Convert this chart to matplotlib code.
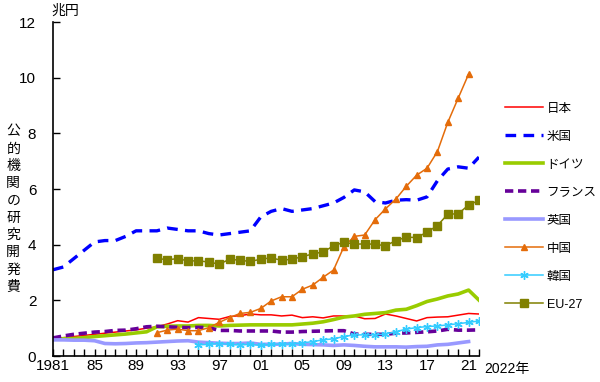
import numpy as np
import matplotlib.pyplot as plt

plt.rcParams['font.family'] = ['Liberation Sans', 'Noto Sans CJK JP']
plt.rcParams['xtick.direction'] = 'in'
plt.rcParams['ytick.direction'] = 'in'
plt.rcParams['xtick.major.pad'] = 2.5
plt.rcParams['ytick.major.pad'] = 12

# 公的機関の研究開発費（兆円）
years = np.arange(1981, 2023)

japan = [0.63, 0.66, 0.70, 0.74, 0.78, 0.82, 0.86, 0.90, 0.94, 1.00,
         1.05, 1.15, 1.27, 1.22, 1.38, 1.35, 1.32, 1.42, 1.45, 1.51,
         1.48, 1.48, 1.44, 1.47, 1.38, 1.41, 1.37, 1.44, 1.44, 1.44,
         1.34, 1.35, 1.51, 1.44, 1.35, 1.26, 1.38, 1.40, 1.41, 1.47,
         1.53, 1.51]
usa = [3.10, 3.20, 3.50, 3.80, 4.10, 4.15, 4.15, 4.30, 4.50, 4.50,
       4.50, 4.60, 4.55, 4.50, 4.50, 4.40, 4.35, 4.40, 4.45, 4.50,
       5.00, 5.20, 5.30, 5.20, 5.25, 5.30, 5.40, 5.50, 5.70, 5.97,
       5.90, 5.55, 5.50, 5.60, 5.62, 5.60, 5.72, 6.30, 6.72, 6.80,
       6.75, 7.15]
germany = [0.62, 0.62, 0.63, 0.66, 0.70, 0.73, 0.76, 0.79, 0.83, 0.87,
           1.05, 1.07, 1.08, 1.08, 1.10, 1.10, 1.08, 1.10, 1.11, 1.12,
           1.12, 1.12, 1.12, 1.12, 1.15, 1.18, 1.23, 1.31, 1.40, 1.44,
           1.50, 1.53, 1.56, 1.65, 1.68, 1.81, 1.96, 2.05, 2.16, 2.23,
           2.37, 2.01]
france = [0.65, 0.72, 0.78, 0.82, 0.86, 0.88, 0.92, 0.93, 0.98, 1.05,
          1.07, 1.05, 1.03, 1.02, 1.03, 1.02, 0.92, 0.92, 0.90, 0.90,
          0.90, 0.90, 0.86, 0.86, 0.88, 0.89, 0.90, 0.91, 0.91, 0.79,
          0.78, 0.78, 0.78, 0.82, 0.83, 0.85, 0.87, 0.90, 0.96, 0.93,
          0.93, 0.94]
uk = [0.58, 0.58, 0.57, 0.57, 0.55, 0.45, 0.44, 0.45, 0.47, 0.48,
      0.50, 0.52, 0.54, 0.55, 0.50, 0.48, 0.46, 0.45, 0.45, 0.47,
      0.42, 0.42, 0.43, 0.45, 0.42, 0.41, 0.40, 0.38, 0.40, 0.38,
      0.35, 0.33, 0.33, 0.33, 0.32, 0.34, 0.35, 0.40, 0.42, 0.47,
      0.52, np.nan]
china = [np.nan] * 10 + [
    0.84, 0.93, 0.97, 0.91, 0.91, 1.02, 1.21, 1.38, 1.53, 1.57,
    1.71, 1.98, 2.13, 2.13, 2.40, 2.55, 2.83, 3.09, 3.93, 4.30,
    4.35, 4.90, 5.29, 5.64, 6.10, 6.50, 6.75, 7.35, 8.40, 9.27,
    10.13, np.nan]
korea = [np.nan] * 14 + [
    0.40, 0.42, 0.45, 0.42, 0.40, 0.42, 0.38, 0.42, 0.43, 0.43,
    0.47, 0.52, 0.58, 0.62, 0.70, 0.76, 0.76, 0.76, 0.79, 0.87,
    0.97, 1.02, 1.06, 1.08, 1.12, 1.16, 1.21, 1.26]
eu27 = [np.nan] * 10 + [
    3.51, 3.46, 3.50, 3.42, 3.42, 3.38, 3.30, 3.48, 3.44, 3.40,
    3.48, 3.53, 3.44, 3.48, 3.57, 3.67, 3.74, 3.96, 4.09, 4.02,
    4.03, 4.02, 3.96, 4.15, 4.27, 4.26, 4.45, 4.69, 5.10, 5.11,
    5.43, 5.59]

fig = plt.figure(figsize=(6, 3.82), dpi=100)
ax = fig.add_axes([0.0883, 0.068, 0.710, 0.874])

ax.plot(years, japan, color='#ff0000', lw=1.1, label='日本')
ax.plot(years, usa, color='#0000ff', lw=2.4, dashes=(3.2, 2.2), label='米国')
ax.plot(years, germany, color='#99cc00', lw=2.6, label='ドイツ')
ax.plot(years, france, color='#660099', lw=2.6, dashes=(2.3, 1.3), label='フランス')
ax.plot(years, uk, color='#9999ff', lw=2.6, label='英国')
ax.plot(years, china, color='#e46c0a', lw=1.1, marker='^', ms=5, label='中国')
ax.plot(years, korea, color='#33ccff', lw=1.1, marker=(6, 2, 0), ms=6,
        mew=1.0, label='韓国')
ax.plot(years, eu27, color='#808000', lw=1.1, marker='s', ms=5.5, label='EU-27')

ax.set_xlim(1981, 2022)
ax.set_ylim(0, 12)
ax.spines['top'].set_visible(False)
ax.spines['right'].set_visible(False)
ax.spines['left'].set_linewidth(1.2)
ax.spines['bottom'].set_linewidth(1.2)

ax.set_yticks(range(0, 13, 2))
ax.set_xticks(years)
xlabels = []
for y in years:
    if (y - 1981) % 4 == 0:
        xlabels.append('1981' if y == 1981 else '%02d' % (y % 100))
    else:
        xlabels.append('')
ax.set_xticklabels(xlabels)
ax.tick_params(length=5, width=1, labelsize=11)

fig.text(0.807, 0.034, '2022年', fontsize=10, ha='left', va='center')
fig.text(0.108, 0.972, '兆円', fontsize=10, ha='center', va='center')
fig.text(0.022, 0.453, '\n'.join('公的機関の研究開発費'), fontsize=10,
         ha='center', va='center', linespacing=1.3)

fig.legend(loc='upper left', bbox_to_anchor=(0.834, 0.744), frameon=False,
           fontsize=9, handlelength=3.0, handletextpad=0.3,
           labelspacing=1.28, borderaxespad=0)

fig.savefig('out.png', dpi=100)
